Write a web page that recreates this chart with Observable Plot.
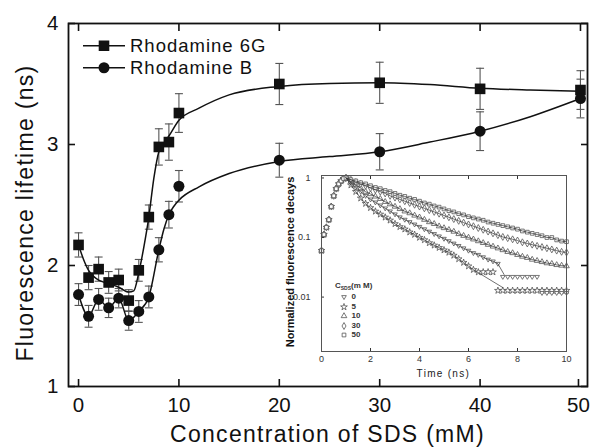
<!DOCTYPE html>
<html><head><meta charset="utf-8">
<script src="https://cdn.jsdelivr.net/npm/d3@7"></script>
<script src="https://cdn.jsdelivr.net/npm/@observablehq/plot@0.6"></script>
<style>
body{margin:0;background:#fff;}
#wrap{position:relative;width:590px;height:447px;font-family:"Liberation Sans",Arial,sans-serif;color:#111;overflow:hidden;}
#wrap svg.plot{position:absolute;}
.abs{position:absolute;white-space:nowrap;line-height:1;}
.title{font-size:23px;letter-spacing:1.3px;transform:translate(-50%,-50%);}
.ytitle{transform:translate(-50%,-50%) rotate(-90deg);}
.leg{font-size:18.5px;letter-spacing:1px;display:flex;align-items:center;transform:translateY(-50%);}
.leg svg{margin-right:5px;}
.ileg{font-size:8px;color:#333;font-weight:bold;transform:translateY(-50%);display:flex;align-items:center;}
</style></head>
<body><div id="wrap"></div>
<script>
// ---------- main chart data ----------
const concentration = [0,1,2,3,4,5,6,7,8,9,10,20,30,40,50];
const lifetime6G = [2.17,1.90,1.97,1.86,1.88,1.71,1.96,2.40,2.98,3.02,3.26,3.50,3.51,3.46,3.45];
const error6G    = [0.10,0.10,0.10,0.09,0.09,0.09,0.09,0.10,0.15,0.15,0.16,0.17,0.17,0.17,0.16];
const lifetimeB  = [1.76,1.58,1.72,1.65,1.73,1.545,1.62,1.74,2.13,2.42,2.655,2.87,2.94,3.11,3.38];
const errorB     = [0.09,0.09,0.09,0.08,0.08,0.08,0.09,0.09,0.10,0.11,0.13,0.14,0.15,0.16,0.16];
// fitted curves
const fitConc6G = [0,0.5,1,1.5,2,3,4,5,5.5,6,6.5,7,7.5,8,8.5,9,10,12,15,20,25,30,35,40,45,50];
const fit6G     = [2.17,2.05,1.96,1.91,1.88,1.85,1.82,1.78,1.79,1.94,2.15,2.40,2.72,2.94,3.01,3.07,3.20,3.30,3.41,3.48,3.505,3.51,3.495,3.465,3.45,3.44];
const fitConcB  = [0,1,2,3,4,5,6,7,8,8.5,9,9.5,10,12,15,20,25,30,35,40,45,50];
const fitB      = [1.76,1.58,1.72,1.65,1.73,1.545,1.62,1.74,2.13,2.30,2.42,2.49,2.54,2.65,2.76,2.86,2.90,2.94,3.02,3.11,3.23,3.38];
const xTicks = [0,10,20,30,40,50];
const yTicks = [1,2,3,4];
const seriesNames = ["Rhodamine 6G","Rhodamine B"];

// ---------- inset data (log10 of normalized intensity) ----------
const riseTime = [0,0.1,0.2,0.3,0.4,0.5,0.6,0.7,0.8,0.9];
const riseLog  = [-1.22,-0.95,-0.83,-0.70,-0.48,-0.30,-0.18,-0.10,-0.05,-0.01];
const decayTime = [1.0,1.2,1.4,1.6,1.8,2.0,2.2,2.4,2.6,2.8,3.0,3.2,3.4,3.6,3.8,4.0,4.2,4.4,4.6,4.8,5.0,5.2,5.4,5.6,5.8,6.0,6.2,6.4,6.6,6.8,7.0,7.2,7.4,7.6,7.8,8.0,8.2,8.4,8.6,8.8,9.0,9.2,9.4,9.6,9.8,10.0];
const decay0  = [0,-0.08,-0.16,-0.23,-0.30,-0.36,-0.41,-0.46,-0.51,-0.56,-0.61,-0.66,-0.70,-0.74,-0.78,-0.82,-0.86,-0.90,-0.94,-0.98,-1.02,-1.06,-1.10,-1.14,-1.18,-1.22,-1.26,-1.29,-1.33,-1.37,-1.40,-1.44,-1.66,-1.66,-1.66,-1.66,-1.66,-1.66,-1.66,-1.66,-1.93,-1.93,-1.93,-1.93,-1.93,-1.93];
const decay5  = [0,-0.12,-0.23,-0.34,-0.43,-0.50,-0.56,-0.61,-0.66,-0.71,-0.77,-0.82,-0.86,-0.91,-0.95,-1.00,-1.04,-1.09,-1.13,-1.17,-1.21,-1.25,-1.30,-1.36,-1.42,-1.48,-1.54,-1.58,-1.58,-1.58,-1.58,-1.89,-1.89,-1.89,-1.89,-1.89,-1.89,-1.89,-1.89,-1.89,-1.89,-1.89,-1.89,-1.89,-1.89,-1.89];
const decay10 = [0,-0.06,-0.12,-0.17,-0.23,-0.27,-0.31,-0.35,-0.40,-0.44,-0.48,-0.52,-0.56,-0.59,-0.63,-0.66,-0.70,-0.74,-0.77,-0.81,-0.84,-0.87,-0.90,-0.94,-0.97,-1.00,-1.03,-1.06,-1.09,-1.12,-1.15,-1.18,-1.21,-1.24,-1.26,-1.29,-1.32,-1.34,-1.37,-1.39,-1.41,-1.43,-1.44,-1.46,-1.47,-1.48];
const decay30 = [0,-0.03,-0.07,-0.10,-0.13,-0.17,-0.20,-0.23,-0.26,-0.30,-0.33,-0.36,-0.39,-0.42,-0.45,-0.48,-0.51,-0.54,-0.57,-0.60,-0.63,-0.66,-0.69,-0.72,-0.75,-0.78,-0.81,-0.84,-0.87,-0.90,-0.93,-0.96,-0.99,-1.01,-1.03,-1.05,-1.08,-1.10,-1.12,-1.14,-1.16,-1.18,-1.20,-1.22,-1.24,-1.25];
const decay50 = [0,-0.03,-0.05,-0.08,-0.10,-0.13,-0.16,-0.18,-0.21,-0.23,-0.26,-0.29,-0.31,-0.34,-0.36,-0.39,-0.42,-0.44,-0.47,-0.49,-0.52,-0.55,-0.57,-0.60,-0.62,-0.65,-0.67,-0.69,-0.71,-0.74,-0.76,-0.78,-0.80,-0.82,-0.84,-0.86,-0.89,-0.91,-0.93,-0.95,-0.97,-1.00,-1.00,-1.04,-1.06,-1.07];
const sdsLevels = [0,5,10,30,50];
const fitEnd = [7.2,6.2,10,10,10];          // end of fitted line on the data (ns)
const fitTailTime = [7.45,7.4,null,null,null]; // extension of fitted line
const fitTailLog  = [-1.62,-1.84,null,null,null];
const insetXTicks = [0,2,4,6,8,10];
const insetYTicks = [1,0.1,0.01];

// ---------- symbols ----------
const triDown = {draw(ctx, size){ const s = Math.sqrt(size)*0.62; ctx.moveTo(-s,-s*0.6); ctx.lineTo(s,-s*0.6); ctx.lineTo(0,s*1.1); ctx.closePath(); }};
const capSym = {draw(ctx, size){ const w = Math.sqrt(size); ctx.moveTo(-w/2,0); ctx.lineTo(w/2,0); }};
const insetSymbols = [triDown, d3.symbolStar, d3.symbolTriangle, d3.symbolDiamond, d3.symbolSquare];

// ---------- build main ----------
const rows6G = concentration.map((c,i)=>({c, v: lifetime6G[i], e: error6G[i]}));
const rowsB  = concentration.map((c,i)=>({c, v: lifetimeB[i], e: errorB[i]}));
const fitRows6G = fitConc6G.map((c,i)=>({c, v: fit6G[i]}));
const fitRowsB  = fitConcB.map((c,i)=>({c, v: fitB[i]}));
const errStroke = "#555";

function errMarks(rows){
  return [
    Plot.ruleX(rows, {x:"c", y1: d=>d.v-d.e, y2: d=>d.v+d.e, stroke: errStroke, strokeWidth: 1.1}),
    Plot.dot(rows, {x:"c", y: d=>d.v+d.e, symbol: capSym, r: 4.5, stroke: errStroke, fill: "none", strokeWidth: 1.1}),
    Plot.dot(rows, {x:"c", y: d=>d.v-d.e, symbol: capSym, r: 4.5, stroke: errStroke, fill: "none", strokeWidth: 1.1})
  ];
}

const main = Plot.plot({
  width: 590, height: 447,
  marginLeft: 68, marginRight: 3, marginTop: 23, marginBottom: 61,
  x: {domain: [-1, 50.7]},
  y: {domain: [1, 4]},
  style: {fontFamily: "'Liberation Sans', Arial, sans-serif", fontSize: "20.5px", color: "#111", background: "transparent"},
  marks: [
    ...errMarks(rows6G),
    ...errMarks(rowsB),
    Plot.line(fitRows6G, {x:"c", y:"v", curve:"monotone-x", stroke:"#111", strokeWidth: 1.5}),
    Plot.line(fitRowsB, {x:"c", y:"v", curve:"monotone-x", stroke:"#111", strokeWidth: 1.5}),
    Plot.dot(rows6G, {x:"c", y:"v", symbol:"square", r: 6, fill:"#111"}),
    Plot.dot(rowsB, {x:"c", y:"v", symbol:"circle", r: 5.5, fill:"#111"}),
    Plot.axisX({anchor:"bottom", ticks: xTicks.slice(0, -1), tickSize: -7, tickPadding: 18, tickFormat: d => String(d), label: null, strokeWidth: 1.6}),
    Plot.axisX({anchor:"bottom", ticks: xTicks.slice(-1), tickSize: -7, tickPadding: 18, tickFormat: d => String(d), label: null, strokeWidth: 1.6, dx: -2}),
    Plot.axisX({anchor:"top", ticks: xTicks, tickSize: -7, tickFormat: () => "", label: null, strokeWidth: 1.6}),
    Plot.axisY({anchor:"left", ticks: yTicks, tickSize: -7, tickPadding: 17, tickFormat: d => String(d), label: null, strokeWidth: 1.6}),
    Plot.axisY({anchor:"right", ticks: yTicks, tickSize: -7, tickFormat: () => "", label: null, strokeWidth: 1.6}),
    Plot.frame({stroke:"#111", strokeWidth: 1.8})
  ]
});
main.classList.add("plot");
main.style.left = "0px"; main.style.top = "0px";

// ---------- build inset ----------
const insetRows = [];
const decays = [decay0, decay5, decay10, decay30, decay50];
const fitRowsInset = [];
sdsLevels.forEach((c, k) => {
  riseTime.forEach((t,i)=> insetRows.push({c, k, t, v: Math.pow(10, riseLog[i])}));
  decayTime.forEach((t,i)=> {
    insetRows.push({c, k, t, v: Math.pow(10, decays[k][i])});
    if (t <= fitEnd[k] + 1e-9) fitRowsInset.push({c, t, v: Math.pow(10, decays[k][i])});
  });
  if (fitTailTime[k] != null) fitRowsInset.push({c, t: fitTailTime[k], v: Math.pow(10, fitTailLog[k])});
});

const drawOrder = [1,0,2,3,4];
const inset = Plot.plot({
  width: 300, height: 225,
  marginLeft: 41, marginRight: 14, marginTop: 15, marginBottom: 34,
  x: {domain: [0, 10]},
  y: {type: "log", domain: [0.00122, 1.1]},
  style: {fontFamily: "'Liberation Sans', Arial, sans-serif", fontSize: "9px", color: "#333", background: "transparent"},
  marks: [
    ...drawOrder.map(k => Plot.dot(insetRows.filter(d=>d.k===k), {x:"t", y:"v", symbol: insetSymbols[k], r: 2.1, stroke:"#555", fill:"#fff", strokeWidth: 0.8})),
    Plot.line(fitRowsInset, {x:"t", y:"v", z:"c", stroke:"#333", strokeWidth: 0.7}),
    Plot.axisX({anchor:"bottom", ticks: insetXTicks, tickSize: -3, tickPadding: 7, tickFormat: d => String(d), label: null}),
    Plot.axisX({anchor:"top", ticks: insetXTicks, tickSize: -3, tickFormat: () => "", label: null}),
    Plot.axisY({anchor:"left", ticks: insetYTicks, tickSize: -3, tickPadding: 14, tickFormat: d => String(d), label: null}),
    Plot.frame({stroke:"#555", strokeWidth: 1})
  ]
});
inset.classList.add("plot");
inset.style.left = "280px"; inset.style.top = "160px";

const wrap = document.getElementById("wrap");
wrap.appendChild(main);
wrap.appendChild(inset);

// ---------- texts & legends ----------
function addDiv(html, cls, left, top){
  const d = document.createElement("div");
  d.className = "abs " + cls; d.innerHTML = html;
  d.style.left = left + "px"; d.style.top = top + "px";
  wrap.appendChild(d); return d;
}
addDiv("Concentration of SDS (mM)", "title", 327.5, 434);
addDiv("Fluorescence lifetime (ns)", "title ytitle", 25, 213);
const it = addDiv("Time (ns)", "", 443.4, 374.3);
it.style.fontSize = "10px"; it.style.letterSpacing = "1.3px"; it.style.transform = "translate(-50%,-50%)"; it.style.color="#222";
const iy = addDiv("Normalized fluorescence decays", "", 289.5, 262);
iy.style.fontSize = "11px"; iy.style.fontWeight = "bold"; iy.style.transform = "translate(-50%,-50%) rotate(-90deg)"; iy.style.color="#111";

// main legend
const legSyms = [d3.symbol(d3.symbolSquare, 112)(), d3.symbol(d3.symbolCircle, 95)()];
seriesNames.forEach((name, i) => {
  const svg = `<svg width="42" height="14" viewBox="0 0 42 14"><line x1="0" x2="42" y1="7" y2="7" stroke="#111" stroke-width="1.5"/><path d="${legSyms[i]}" transform="translate(21,7)" fill="#111"/></svg>`;
  addDiv(svg + `<span>${name}</span>`, "leg", 83, i === 0 ? 45.5 : 67.5);
});

// inset legend
addDiv(`C<span style="font-size:5px;position:relative;top:2px">SDS</span>(m M)`, "ileg", 335, 286);
sdsLevels.forEach((c, k) => {
  const p = d3.symbol(insetSymbols[k], 14)();
  const svg = `<svg width="8" height="8" viewBox="-4 -4 8 8" style="margin-right:4px"><path d="${p}" fill="#fff" stroke="#555" stroke-width="0.8"/></svg>`;
  addDiv(svg + `<span>${c}</span>`, "ileg", 339.5, 297 + k*9.5);
});
</script></body></html>
